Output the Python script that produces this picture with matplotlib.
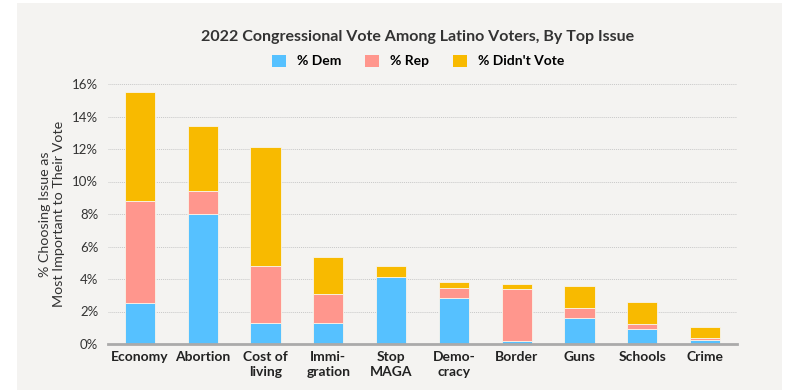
import matplotlib.pyplot as plt
from matplotlib.patches import Rectangle, Patch
from matplotlib.ticker import FuncFormatter
import numpy as np

issues = ["Economy", "Abortion", "Cost of\nliving", "Immi-\ngration", "Stop\nMAGA",
          "Demo-\ncracy", "Border", "Guns", "Schools", "Crime"]
dem = [2.5, 8.0, 1.3, 1.3, 4.15, 2.85, 0.2, 1.6, 0.9, 0.25]
rep = [6.3, 1.4, 3.5, 1.8, 0.0, 0.6, 3.2, 0.6, 0.35, 0.12]
didnt_vote = [6.7, 4.0, 7.3, 2.25, 0.65, 0.37, 0.3, 1.4, 1.35, 0.65]

series_names = ["% Dem", "% Rep", "% Didn't Vote"]
colors = ["#56c1ff", "#ff968d", "#f8ba00"]

plt.rcParams["font.family"] = ["Lato", "DejaVu Sans"]
text_color = "#333333"


def main():
    fig = plt.figure(figsize=(7.85, 3.9), dpi=100)
    fig.patch.set_facecolor("white")

    # light gray panel behind the chart
    panel = Rectangle((17 / 785, 0), 765 / 785, 387 / 390,
                      transform=fig.transFigure, facecolor="#f4f3f1",
                      edgecolor="none", zorder=-10)
    fig.add_artist(panel)

    ax = fig.add_axes([108 / 785, 46 / 390, 629 / 785, 260 / 390])
    ax.set_facecolor("none")

    x = np.arange(len(issues))
    bottom = np.zeros(len(issues))
    for vals, name, col in zip([dem, rep, didnt_vote], series_names, colors):
        ax.bar(x, vals, 0.48, bottom=bottom, color=col, edgecolor="#f8f4ea",
               linewidth=0.6, label=name, zorder=3)
        bottom += np.array(vals)

    ax.set_xlim(-0.51, len(issues) - 0.49)
    ax.set_ylim(0, 16)
    ax.set_yticks(np.arange(0, 17, 2))
    ax.yaxis.set_major_formatter(FuncFormatter(lambda v, p: f"{v:.0f}%"))
    ax.grid(axis="y", color="#c8c8c8", linestyle=(0, (1, 1)), linewidth=0.7, zorder=0)

    for s in ["top", "right", "left"]:
        ax.spines[s].set_visible(False)
    ax.spines["bottom"].set_color("#aaaaaa")
    ax.spines["bottom"].set_linewidth(2)
    ax.spines["bottom"].set_zorder(4)

    ax.tick_params(axis="y", length=0, labelsize=9.5, labelcolor=text_color, pad=7)
    ax.tick_params(axis="x", length=0, pad=5)
    ax.set_xticks(x)
    ax.set_xticklabels(issues, fontsize=10, fontweight="bold", color="#222222",
                       linespacing=1.3)

    ax.set_ylabel("% Choosing Issue as\nMost Important to Their Vote", fontsize=10.3,
                  color=text_color, labelpad=5, linespacing=1.25)

    fig.text(418 / 785, 1 - 37 / 390,
             "2022 Congressional Vote Among Latino Voters, By Top Issue",
             ha="center", va="center", fontsize=11.5, fontweight="bold", color=text_color)

    handles = [Patch(facecolor=c, edgecolor="none") for c in colors]
    fig.legend(handles, series_names, loc="center", bbox_to_anchor=(418 / 785, 1 - 61 / 390),
               ncol=3, frameon=False, prop={"weight": "bold", "size": 10},
               handlelength=1.0, handleheight=1.0, handletextpad=0.8, columnspacing=1.7)

    plt.savefig("out.png", dpi=100)


if __name__ == "__main__":
    main()
